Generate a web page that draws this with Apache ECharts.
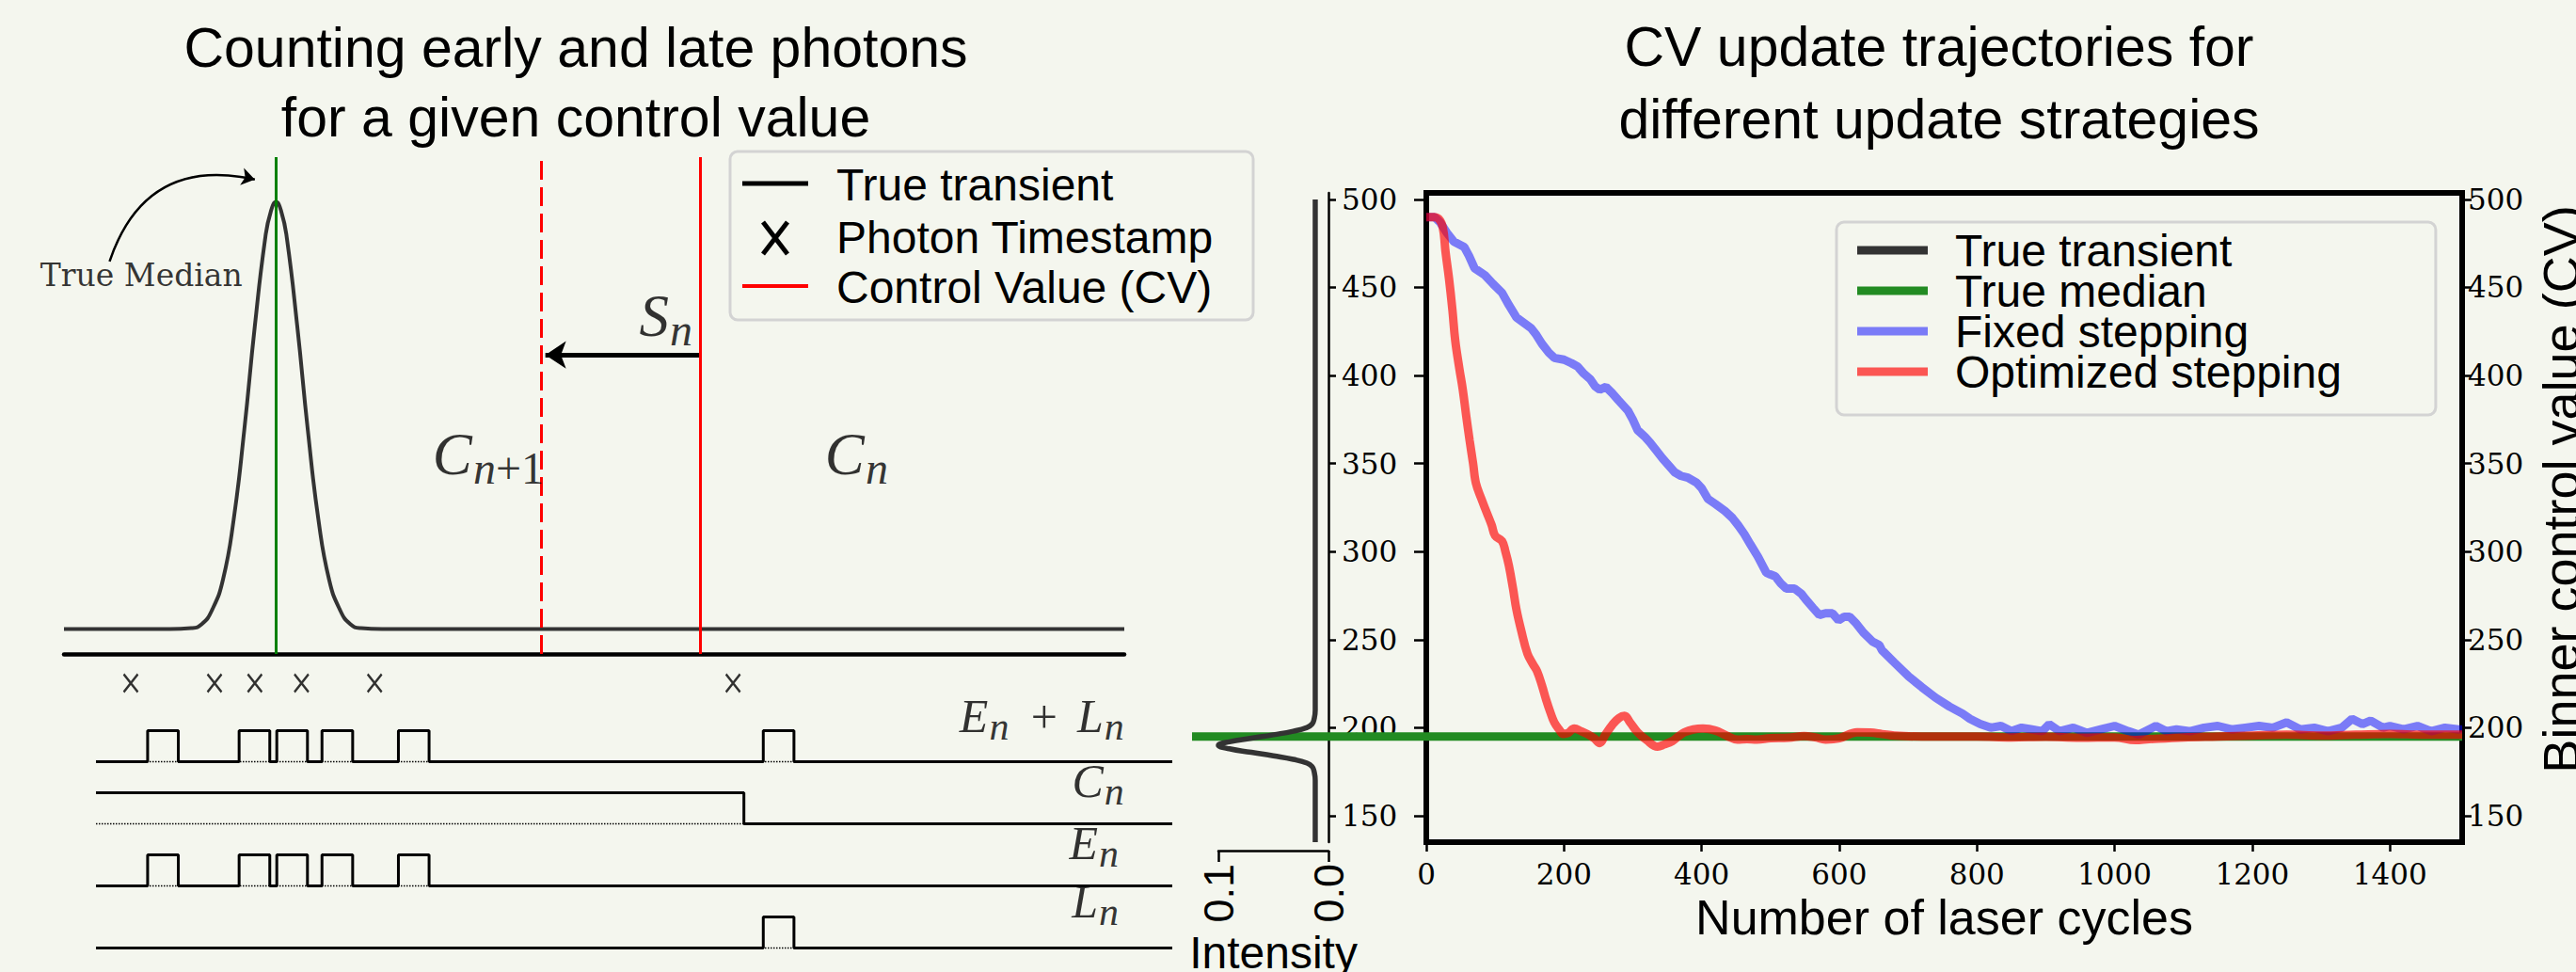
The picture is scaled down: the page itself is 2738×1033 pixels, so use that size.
<!DOCTYPE html>
<html>
<head>
<meta charset="utf-8">
<script src="https://cdn.jsdelivr.net/npm/echarts@6.0.0/dist/echarts.min.js"></script>
<style>
  html, body { margin: 0; padding: 0; background: #f4f6ee; }
  #main { width: 2738px; height: 1033px; }
</style>
</head>
<body>
<div id="main"></div>
<script>
// ---------- left panel (schematic) ----------
var transientT = [0, 6, 10, 12, 13, 14, 15, 16, 17, 18, 19, 19.5, 20, 20.5, 21, 22, 23, 24, 25, 26, 27, 28, 30, 34, 50, 75, 100];
var transientI = [0.05, 0.05, 0.05, 0.052, 0.06, 0.09, 0.15, 0.27, 0.45, 0.66, 0.84, 0.89, 0.91, 0.89, 0.84, 0.66, 0.45, 0.27, 0.15, 0.09, 0.06, 0.052, 0.05, 0.05, 0.05, 0.05, 0.05];
var medianT = 20;
var cvNow = 60;
var cvNext = 45;
var photonT = [6.3, 14.2, 18.0, 22.4, 29.3, 63.1];
var pulseStart = [4.8, 13.3, 16.8, 21.0, 28.1, 62.0];
var pulseWidth = 2.85;
var cnStep = 60.2;

// ---------- right panel ----------
var cycleTicks = [0, 200, 400, 600, 800, 1000, 1200, 1400];
var cvTicks = [150, 200, 250, 300, 350, 400, 450, 500];
var trueMedian = 195;

var margCV = [500, 250, 210, 205, 202, 200, 198, 196, 194, 192, 190, 188, 186, 184, 182, 180, 178, 175, 170, 135];
var margI = [0.012, 0.012, 0.012, 0.013, 0.015, 0.02, 0.032, 0.05, 0.07, 0.09, 0.1, 0.09, 0.07, 0.05, 0.032, 0.02, 0.015, 0.013, 0.012, 0.012];

var fixedX = [0, 12, 20, 30, 40, 55, 62, 70, 85, 97, 110, 120, 131, 145, 152, 160, 168, 178, 186, 200, 211, 220, 229, 238, 245, 252, 261, 270, 279, 293, 300, 307, 318, 325, 335, 343, 352, 361, 370, 380, 393, 400, 409, 420, 434, 445, 453, 462, 471, 482, 494, 500, 507, 515, 523, 535, 545, 551, 562, 571, 580, 590, 599, 607, 615, 625, 635, 648, 658, 662, 680, 701, 720, 740, 760, 779, 790, 805, 820, 835, 850, 865, 880, 895, 905, 920, 940, 960, 980, 1000, 1020, 1035, 1050, 1060, 1075, 1090, 1110, 1130, 1150, 1170, 1190, 1210, 1230, 1250, 1270, 1290, 1310, 1330, 1345, 1360, 1372, 1390, 1400, 1420, 1440, 1460, 1480, 1500, 1505];
var fixedY = [490, 490, 487, 481, 476, 473, 468, 461, 457, 452, 447, 440, 433, 429, 427, 423, 418, 413, 410, 409, 407, 405, 401, 398, 394, 392, 393.5, 390, 386, 380, 375, 369, 365, 362, 357, 353, 349, 345, 343, 342, 339, 336, 330, 327, 323, 319, 315, 310, 304, 297, 288, 287, 286, 282, 279, 279, 276, 273, 268, 264, 265, 265, 261, 263, 263, 259, 254, 249, 247, 244, 237, 229, 223, 217, 212, 208, 205, 202, 200, 201, 198, 200, 199, 198, 202, 198, 200, 197, 199, 201, 198, 196, 199, 201, 198, 199, 198, 200, 201, 199, 200, 201, 200, 203, 199, 200, 198, 200, 205, 202, 204, 200, 201, 199, 201, 198, 200, 199, 199];

var optX = [0, 10, 18, 24, 28, 33, 38, 42, 48, 53, 58, 63, 68, 72, 80, 88, 95, 100, 110, 115, 120, 126, 131, 138, 147, 155, 161, 168, 174, 180, 186, 193, 199, 206, 215, 225, 234, 244, 252, 260, 270, 280, 288, 296, 307, 320, 336, 346, 357, 366, 375, 388, 402, 420, 436, 452, 466, 480, 500, 526, 549, 565, 580, 600, 626, 645, 662, 680, 720, 760, 800, 850, 900, 950, 1000, 1030, 1050, 1100, 1150, 1200, 1250, 1300, 1350, 1400, 1450, 1505];
var optY = [490, 490, 489, 484, 470, 455, 437, 420, 404, 392, 377, 363, 350, 339, 330, 322, 315, 309, 306, 300, 292, 279, 267, 255, 242, 236, 232, 224, 216, 209, 203, 199, 196.5, 197, 199.5, 198, 196.4, 194, 191.3, 196, 201.5, 205.5, 206.7, 203, 197.4, 193, 189.2, 190.5, 192.3, 195, 197.4, 199, 199.5, 198.4, 195.5, 193.3, 193.5, 193.3, 194, 194.3, 195.3, 194.5, 193.3, 194, 197.4, 197.2, 196.4, 195.5, 195, 195, 195, 194.5, 194.8, 194.3, 194.5, 193, 193.5, 194.5, 195, 195.5, 196, 195.5, 196, 196.5, 196, 196];

var BG = '#f4f6ee';
var SANS = 'Liberation Sans';
var SERIF = 'DejaVu Serif';
var MATH = 'Liberation Serif';

function zip(a, b) {
    return a.map(function (v, i) { return [v, b[i]]; });
}

// square pulses on a row, low level = base
function pulseLine(starts, base) {
    var pts = [[0, base]];
    starts.forEach(function (s) {
        pts.push([s, base], [s, base + 1], [s + pulseWidth, base + 1], [s + pulseWidth, base]);
    });
    pts.push([100, base]);
    return pts;
}

var earlyStarts = pulseStart.filter(function (s, i) { return photonT[i] < cvNow; });
var lateStarts = pulseStart.filter(function (s, i) { return photonT[i] >= cvNow; });

var rowLine = {color: '#000', width: 3};
var dotLine = {color: '#000', width: 1.5, type: 'dotted'};

function plainLine(data, style, extra) {
    var s = {
        type: 'line', xAxisIndex: 2, yAxisIndex: 2, data: data,
        showSymbol: false, symbol: 'none', lineStyle: style, silent: true, z: 3
    };
    return Object.assign(s, extra || {});
}

// a math symbol with subscript: main letter ends at the anchor, subscript starts there
function mathSym(x, y, main, sub, size, subSize, dy) {
    return [
        {value: [x, y], label: {formatter: main, align: 'right', verticalAlign: 'middle',
            fontFamily: MATH, fontStyle: 'italic', fontSize: size}},
        {value: [x, y], label: {formatter: sub, align: 'left', verticalAlign: 'middle', offset: [1, dy],
            fontFamily: MATH, fontStyle: 'italic', fontSize: subSize,
            rich: {r: {fontFamily: MATH, fontStyle: 'normal', fontSize: subSize, color: '#000'}}}}
    ];
}

var chart = echarts.init(document.getElementById('main'), null, {renderer: 'svg'});

var option = {
    backgroundColor: BG,
    animation: false,
    grid: [
        {left: 68, top: 167, width: 1127, height: 528, outerBoundsMode: 'none'},
        {left: 68, top: 708, width: 1127, height: 36, outerBoundsMode: 'none'},
        {left: 102, top: 760, width: 1144, height: 264, outerBoundsMode: 'none'},
        {left: 1295, top: 205, width: 117, height: 690, outerBoundsMode: 'none'},
        {left: 1516, top: 205, width: 1101, height: 690, outerBoundsMode: 'none',
            show: true, borderColor: '#000', borderWidth: 6, backgroundColor: 'transparent'},
        {left: 1267, top: 205, width: 1350, height: 690, outerBoundsMode: 'none'}
    ],
    xAxis: [
        {gridIndex: 0, type: 'value', min: 0, max: 100,
            axisLine: {show: true, lineStyle: {color: '#000', width: 4.5}},
            axisTick: {show: false}, axisLabel: {show: false}, splitLine: {show: false}},
        {gridIndex: 1, type: 'value', min: 0, max: 100, show: false},
        {gridIndex: 2, type: 'value', min: 0, max: 100, show: false},
        {gridIndex: 3, type: 'value', min: 0, max: 0.1, inverse: true, position: 'bottom', offset: 9,
            axisLine: {show: true, lineStyle: {color: '#000', width: 2.5}},
            axisTick: {show: true, length: 12, customValues: [0, 0.1], lineStyle: {color: '#000', width: 2.5}},
            axisLabel: {show: true, rotate: 90, customValues: [0, 0.1], margin: 14,
                formatter: function (v) { return v.toFixed(1); },
                fontFamily: SANS, fontSize: 45, color: '#000'},
            splitLine: {show: false},
            name: 'Intensity', nameLocation: 'middle', nameGap: 67,
            nameTextStyle: {fontFamily: SANS, fontSize: 48, color: '#000'}},
        {gridIndex: 4, type: 'value', min: 0, max: 1505,
            axisLine: {show: false},
            axisTick: {show: true, length: 10, customValues: cycleTicks, lineStyle: {color: '#000', width: 2.5}},
            axisLabel: {show: true, customValues: cycleTicks, margin: 18, fontFamily: SERIF, fontSize: 31, color: '#000',
                formatter: function (v) { return String(v); }},
            splitLine: {show: false},
            name: 'Number of laser cycles', nameLocation: 'middle', nameGap: 48,
            nameTextStyle: {fontFamily: SANS, fontSize: 52, color: '#000'}},
        {gridIndex: 5, type: 'value', min: 0, max: 1, show: false}
    ],
    yAxis: [
        {gridIndex: 0, type: 'value', min: 0, max: 1, show: false},
        {gridIndex: 1, type: 'value', min: 0, max: 1, show: false},
        {gridIndex: 2, type: 'value', min: -0.5, max: 7.5, show: false},
        {gridIndex: 3, type: 'value', min: 135, max: 503.7, position: 'right',
            axisLine: {show: true, lineStyle: {color: '#000', width: 2.5}},
            axisTick: {show: true, length: 8, customValues: cvTicks, lineStyle: {color: '#000', width: 2.5}},
            axisLabel: {show: true, customValues: cvTicks, margin: 14, fontFamily: SERIF, fontSize: 31, color: '#000'},
            splitLine: {show: false}},
        {gridIndex: 4, type: 'value', min: 135, max: 503.7, position: 'left',
            axisLine: {show: false},
            axisTick: {show: true, length: 13, customValues: cvTicks, lineStyle: {color: '#000', width: 2.5}},
            axisLabel: {show: false}, splitLine: {show: false}},
        {gridIndex: 4, type: 'value', min: 135, max: 503.7, position: 'right',
            axisLine: {show: false},
            axisTick: {show: true, length: 10, customValues: cvTicks, lineStyle: {color: '#000', width: 2.5}},
            axisLabel: {show: true, customValues: cvTicks, margin: 6, fontFamily: SERIF, fontSize: 31, color: '#000'},
            splitLine: {show: false}},
        {gridIndex: 5, type: 'value', min: 135, max: 503.7, show: false}
    ],
    legend: {
        data: ['True transient', 'True median', 'Fixed stepping', 'Optimized stepping'],
        orient: 'vertical', left: 1952, top: 236,
        padding: [6, 100, 22, 22], itemGap: -5, itemWidth: 75, itemHeight: 9, icon: 'rect',
        selectedMode: false,
        backgroundColor: BG, borderColor: '#d3d3d3', borderWidth: 3, borderRadius: 8,
        textStyle: {fontFamily: SANS, fontSize: 48, color: '#000', lineHeight: 43, padding: [0, 0, 0, 24]}
    },
    graphic: [
        {type: 'text', x: 612, y: 88, style: {
            text: 'Counting early and late photons\nfor a given control value',
            fontFamily: SANS, fontSize: 59, lineHeight: 74, fill: '#000', align: 'center', verticalAlign: 'middle'}},
        {type: 'text', x: 2061, y: 88, style: {
            text: 'CV update trajectories for\ndifferent update strategies',
            fontFamily: SANS, fontSize: 59, lineHeight: 77, fill: '#000', align: 'center', verticalAlign: 'middle'}},
        {type: 'text', x: 2722, y: 520, rotation: Math.PI / 2, style: {
            text: 'Binner control value (CV)',
            fontFamily: SANS, fontSize: 54, fill: '#000', align: 'center', verticalAlign: 'middle'}},
        // left legend
        {type: 'rect', shape: {x: 776, y: 161, width: 556, height: 179, r: 8},
            style: {fill: BG, stroke: '#d3d3d3', lineWidth: 3}},
        {type: 'line', shape: {x1: 789, y1: 195, x2: 859, y2: 195}, style: {stroke: '#000', lineWidth: 5}},
        {type: 'line', shape: {x1: 811, y1: 236, x2: 837, y2: 270}, style: {stroke: '#000', lineWidth: 5}},
        {type: 'line', shape: {x1: 837, y1: 236, x2: 811, y2: 270}, style: {stroke: '#000', lineWidth: 5}},
        {type: 'line', shape: {x1: 789, y1: 304, x2: 859, y2: 304}, style: {stroke: '#ff0000', lineWidth: 4}},
        {type: 'text', x: 889, y: 196, style: {text: 'True transient', fontFamily: SANS, fontSize: 48, fill: '#000', verticalAlign: 'middle'}},
        {type: 'text', x: 889, y: 252, style: {text: 'Photon Timestamp', fontFamily: SANS, fontSize: 48, fill: '#000', verticalAlign: 'middle'}},
        {type: 'text', x: 889, y: 305, style: {text: 'Control Value (CV)', fontFamily: SANS, fontSize: 48, fill: '#000', verticalAlign: 'middle'}}
    ],
    series: [
        // transient with median and control values
        {name: 'transient', type: 'line', xAxisIndex: 0, yAxisIndex: 0,
            data: zip(transientT, transientI), smooth: true, showSymbol: false, symbol: 'none',
            lineStyle: {color: '#333', width: 4}, z: 3, silent: true,
            markLine: {
                symbol: 'none', silent: true, label: {show: false},
                data: [
                    {xAxis: medianT, lineStyle: {color: '#008000', width: 3, type: 'solid'}},
                    {xAxis: cvNext, lineStyle: {color: '#ff0000', width: 3, type: [20, 8]}},
                    {xAxis: cvNow, lineStyle: {color: '#ff0000', width: 3, type: 'solid'}}
                ]
            }},
        // step arrow S_n
        {type: 'lines', coordinateSystem: 'cartesian2d', xAxisIndex: 0, yAxisIndex: 0,
            symbol: ['none', 'arrow'], symbolSize: 22, silent: true, z: 4,
            lineStyle: {color: '#000', width: 5, opacity: 1, curveness: 0},
            data: [{coords: [[cvNow, 0.602], [cvNext + 0.4, 0.602]]}]},
        // "True Median" pointer
        {type: 'lines', coordinateSystem: 'cartesian2d', xAxisIndex: 0, yAxisIndex: 0,
            symbol: ['none', 'arrow'], symbolSize: 14, silent: true, z: 4,
            lineStyle: {color: '#000', width: 2.5, opacity: 1, curveness: 0.45},
            data: [{coords: [[4.3, 0.79], [18.0, 0.955]]}]},
        // annotations on the schematic
        {type: 'scatter', xAxisIndex: 0, yAxisIndex: 0, symbolSize: 1, silent: true, z: 5,
            itemStyle: {color: 'rgba(0,0,0,0)'},
            label: {show: true, position: 'inside', color: '#000'},
            data: [
                {value: [7.3, 0.763], label: {formatter: 'True Median', fontFamily: SERIF, fontSize: 33}}
            ].concat(
                mathSym(57.05, 0.68, 'S', 'n', 63, 48, 15),
                mathSym(38.5, 0.4015, 'C', 'n{r|+1}', 63, 48, 14),
                mathSym(75.5, 0.4015, 'C', 'n', 63, 48, 14)
            )},
        // photon timestamps
        {name: 'Photon Timestamp', type: 'scatter', xAxisIndex: 1, yAxisIndex: 1,
            data: photonT.map(function (t) { return [t, 0.5]; }),
            symbol: 'path://M0,0L10,12M10,0L0,12', symbolSize: [15, 19], silent: true,
            itemStyle: {color: 'rgba(0,0,0,0)', borderColor: '#000', borderWidth: 2.5}},
        // timing rows: dotted baselines first
        plainLine([[0, 6], [100, 6]], dotLine),
        plainLine([[0, 4], [cnStep, 4]], dotLine),
        plainLine([[0, 2], [100, 2]], dotLine),
        plainLine([[0, 0], [100, 0]], dotLine),
        plainLine(pulseLine(pulseStart, 6), rowLine, {z: 4}),
        plainLine([[0, 5], [cnStep, 5], [cnStep, 4], [100, 4]], rowLine, {z: 4}),
        plainLine(pulseLine(earlyStarts, 2), rowLine, {z: 4}),
        plainLine(pulseLine(lateStarts, 0), rowLine, {z: 4}),
        {type: 'scatter', xAxisIndex: 2, yAxisIndex: 2, symbolSize: 1, silent: true, z: 5,
            itemStyle: {color: 'rgba(0,0,0,0)'},
            label: {show: true, position: 'inside', color: '#000'},
            data: [
                {value: [88.1, 7.45], label: {formatter: '+', fontFamily: MATH, fontSize: 50}}
            ].concat(
                mathSym(82.9, 7.476, 'E', 'n', 50, 42, 11),
                mathSym(93.6, 7.476, 'L', 'n', 50, 42, 11),
                mathSym(93.6, 5.38, 'C', 'n', 50, 42, 11),
                mathSym(93.1, 3.38, 'E', 'n', 50, 42, 11),
                mathSym(93.1, 1.485, 'L', 'n', 50, 42, 11)
            )},
        // right panel
        {name: 'True median', type: 'line', xAxisIndex: 5, yAxisIndex: 6,
            data: [[0, trueMedian], [1, trueMedian]], showSymbol: false, symbol: 'none',
            color: '#228b22', lineStyle: {color: '#228b22', width: 9}, z: 1, silent: true},
        {name: 'True transient', type: 'line', xAxisIndex: 3, yAxisIndex: 3,
            data: zip(margI, margCV), smooth: true, showSymbol: false, symbol: 'none',
            color: '#333', lineStyle: {color: '#333', width: 5.5}, z: 3, silent: true},
        {name: 'Fixed stepping', type: 'line', xAxisIndex: 4, yAxisIndex: 4,
            data: zip(fixedX, fixedY), showSymbol: false, symbol: 'none',
            color: 'rgba(0,0,255,0.5)', lineStyle: {color: 'rgba(0,0,255,0.5)', width: 9}, z: 3, silent: true},
        {name: 'Optimized stepping', type: 'line', xAxisIndex: 4, yAxisIndex: 4,
            data: zip(optX, optY), smooth: 0.4, showSymbol: false, symbol: 'none',
            color: 'rgba(255,0,0,0.65)', lineStyle: {color: 'rgba(255,0,0,0.65)', width: 9}, z: 3, silent: true}
    ]
};

chart.setOption(option);
</script>
</body>
</html>
